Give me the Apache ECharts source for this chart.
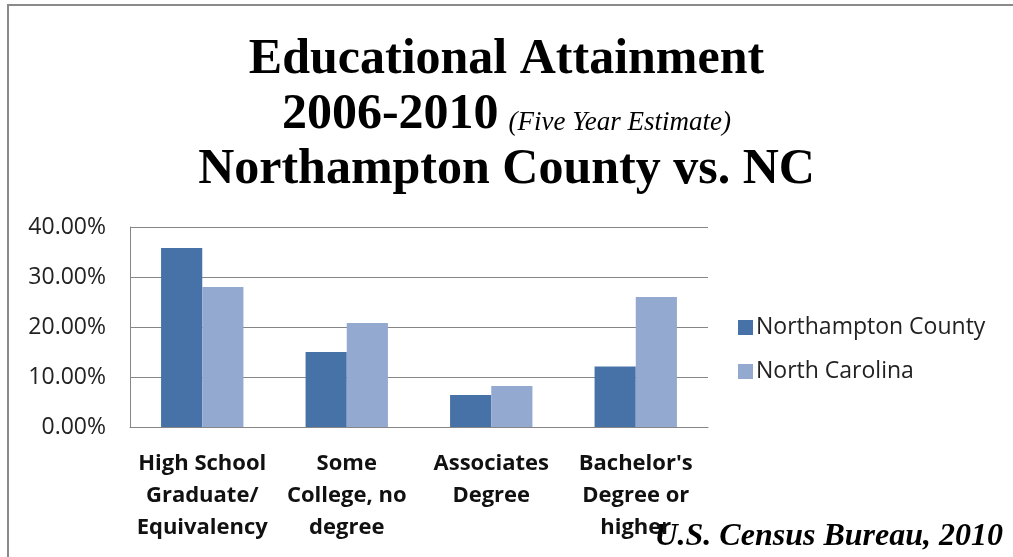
<!DOCTYPE html>
<html><head><meta charset="utf-8">
<script src="https://cdn.jsdelivr.net/npm/echarts@6/dist/echarts.min.js"></script>
<style>html,body{margin:0;padding:0;background:#fff}#c{width:1013px;height:557px}</style>
</head><body><div id="c"></div>
<script>
const categories = ["High School\nGraduate/\nEquivalency", "Some\nCollege, no\ndegree", "Associates\nDegree", "Bachelor's\nDegree or\nhigher"];
const seriesNames = ["Northampton County", "North Carolina"];
const northampton = [35.8, 15.0, 6.4, 12.1];
const northCarolina = [28.0, 20.8, 8.2, 26.0];
const yTicks = [0, 10, 20, 30, 40];

const chart = echarts.init(document.getElementById('c'));
chart.setOption({
  animation: false,
  backgroundColor: '#fff',
  title: {
    text: 'Educational Attainment\n2006-2010{s|(Five Year Estimate)}\nNorthampton County vs. NC',
    left: 'center', top: 28,
    textStyle: {
      fontFamily: 'Liberation Serif', fontWeight: 'bold', fontSize: 50, lineHeight: 55, color: '#000',
      rich: { s: { fontFamily: 'Liberation Serif', fontStyle: 'italic', fontWeight: 'normal', fontSize: 27, color: '#000', padding: [14, 0, 0, 10] } }
    }
  },
  graphic: [
    { type: 'rect', shape: { x: 8, y: 5, width: 1010, height: 570 }, style: { fill: 'none', stroke: '#8a8a8a', lineWidth: 2 }, silent: true },
    { type: 'text', right: 10, top: 521, style: { text: 'U.S. Census Bureau, 2010', font: 'italic bold 32px "Liberation Serif"', fill: '#000' } }
  ],
  legend: {
    orient: 'vertical', left: 733, top: 311, itemGap: 21,
    itemWidth: 15, itemHeight: 15, icon: 'rect',
    textStyle: { fontFamily: 'Open Sans', fontSize: 23, color: '#222', padding: [0, 0, 0, -2] },
    data: seriesNames
  },
  grid: { left: 130, right: 305, top: 227, bottom: 130, containLabel: false },
  xAxis: {
    type: 'category', data: categories,
    axisLine: { lineStyle: { color: '#868686' } },
    axisTick: { show: false },
    axisLabel: { interval: 0, margin: 21, fontFamily: 'Open Sans', fontWeight: 'bold', fontSize: 22, lineHeight: 32, color: '#111' }
  },
  yAxis: {
    type: 'value', min: 0, max: 40, interval: 10,
    axisLine: { show: true, lineStyle: { color: '#868686' } },
    axisTick: { show: false },
    splitLine: { lineStyle: { color: '#868686' } },
    axisLabel: { margin: 24, fontFamily: 'Open Sans', fontSize: 23, color: '#222', formatter: v => yTicks.includes(v) ? v.toFixed(2) + '%' : '' }
  },
  series: [
    { name: seriesNames[0], type: 'bar', data: northampton, barGap: '0%', barCategoryGap: '43%', itemStyle: { color: '#4672a8' } },
    { name: seriesNames[1], type: 'bar', data: northCarolina, itemStyle: { color: '#94a9d0' } }
  ]
});
</script></body></html>
